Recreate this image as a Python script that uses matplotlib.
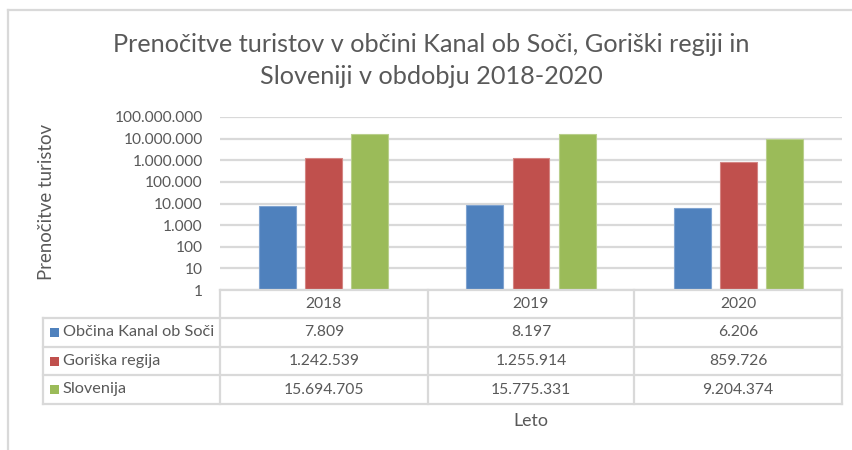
import matplotlib
matplotlib.use("Agg")
import matplotlib.pyplot as plt
from matplotlib.lines import Line2D
from matplotlib.patches import Rectangle
import numpy as np

# ---- data ----
years = ["2018", "2019", "2020"]
series_names = ["Občina Kanal ob Soči", "Goriška regija", "Slovenija"]
kanal = [7809, 8197, 6206]
goriska = [1242539, 1255914, 859726]
slovenija = [15694705, 15775331, 9204374]
ytick_vals = [1, 10, 100, 1000, 10000, 100000, 1000000, 10000000, 100000000]
title_lines = ["Prenočitve turistov v občini Kanal ob Soči, Goriški regiji in",
               "Sloveniji v obdobju 2018-2020"]
ylabel = "Prenočitve turistov"
xlabel = "Leto"

colors = ["#4F81BD", "#C0504D", "#9BBB59"]
edge_colors = ["#7FA3D0", "#D48583", "#B9CF8C"]
TXT = "#595959"
GRID = "#D9D9D9"
FONT = "Lato"

W, H = 853, 450
fig = plt.figure(figsize=(W / 100, H / 100), dpi=100)
fig.patch.set_facecolor("white")

def fx(x):
    return x / W

def fy(y):
    return 1 - y / H

renderer = fig.canvas.get_renderer()

def fit_size(text, target_w, base=10):
    t = fig.text(0, 0, text, fontsize=base, family=FONT)
    bb = t.get_window_extent(renderer=renderer)
    t.remove()
    return base * target_w / bb.width

# plot area in pixels
L, R, T, B = 220, 842, 117, 290
ax = fig.add_axes([fx(L), fy(B), (R - L) / W, (B - T) / H])
ax.set_yscale("log")
ax.set_ylim(1, 1e8)
ax.set_xlim(-0.5, 2.5)

series = [kanal, goriska, slovenija]
x = np.arange(len(years))
col_px = (R - L) / 3
bw = 37 / col_px
off = 46 / col_px
for i, vals in enumerate(series):
    ax.bar(x + (i - 1) * off, np.array(vals) - 1, bottom=1, width=bw,
           color=colors[i], edgecolor=edge_colors[i], linewidth=0.8, zorder=3)

ax.set_yticks(ytick_vals)
ax.set_yticklabels([f"{v:,}".replace(",", ".") for v in ytick_vals])
ax.yaxis.set_minor_locator(matplotlib.ticker.NullLocator())
tick_fs = fit_size("100.000.000", 88)
ax.tick_params(axis="y", length=0, pad=12.5, labelsize=tick_fs, labelcolor=TXT)
for lab in ax.get_yticklabels():
    lab.set_family(FONT)
ax.set_xticks([])
for s in ax.spines.values():
    s.set_visible(False)
ax.grid(axis="y", color=GRID, linewidth=1.6, zorder=0)
ax.set_axisbelow(True)

# ---- frame ----
fig.add_artist(Line2D([fx(8), 1], [fy(10), fy(10)], color=GRID, lw=1.6))
fig.add_artist(Line2D([fx(8), fx(8)], [fy(10), 0], color=GRID, lw=1.6))

# ---- title ----
title_fs = fit_size(title_lines[0], 640)
fig.text(fx(431), fy(45), title_lines[0], ha="center", va="center",
         fontsize=title_fs, color=TXT, family=FONT)
fig.text(fx(431), fy(76), title_lines[1], ha="center", va="center",
         fontsize=title_fs, color=TXT, family=FONT)

# ---- y label ----
ylab_fs = fit_size(ylabel, 157)
fig.text(fx(47), fy(202), ylabel, rotation=90, ha="center", va="center",
         fontsize=ylab_fs, color=TXT, family=FONT)

# ---- data table ----
cols = [220, 428, 634, 842]
rows = [290, 318, 347, 375, 404]
tl = 1.6
fig.add_artist(Line2D([fx(220), fx(842)], [fy(290), fy(290)], color=GRID, lw=tl))
for yy in rows[1:]:
    fig.add_artist(Line2D([fx(43), fx(842)], [fy(yy), fy(yy)], color=GRID, lw=tl))
fig.add_artist(Line2D([fx(43), fx(43)], [fy(318), fy(404)], color=GRID, lw=tl))
for xx in cols:
    fig.add_artist(Line2D([fx(xx), fx(xx)], [fy(290), fy(404)], color=GRID, lw=tl))

cell_fs = fit_size("15.694.705", 80)
for j, yr in enumerate(years):
    cx = (cols[j] + cols[j + 1]) / 2
    fig.text(fx(cx), fy(304), yr, ha="center", va="center",
             fontsize=cell_fs, color=TXT, family=FONT)
    for i, vals in enumerate(series):
        cy = (rows[i + 1] + rows[i + 2]) / 2
        fig.text(fx(cx), fy(cy), f"{vals[j]:,}".replace(",", "."),
                 ha="center", va="center", fontsize=cell_fs, color=TXT, family=FONT)

leg_fs = fit_size(series_names[0], 151)
for i, name in enumerate(series_names):
    cy = (rows[i + 1] + rows[i + 2]) / 2
    fig.add_artist(Rectangle((fx(50), fy(cy + 4.5)), 9 / W, 9 / H,
                             facecolor=colors[i], edgecolor="none",
                             transform=fig.transFigure))
    fig.text(fx(63), fy(cy), name, ha="left", va="center",
             fontsize=leg_fs, color=TXT, family=FONT)

xlab_fs = fit_size(xlabel, 35)
fig.text(fx(531), fy(421), xlabel, ha="center", va="center",
         fontsize=xlab_fs, color=TXT, family=FONT)

fig.savefig("out.png", dpi=100, facecolor="white")
